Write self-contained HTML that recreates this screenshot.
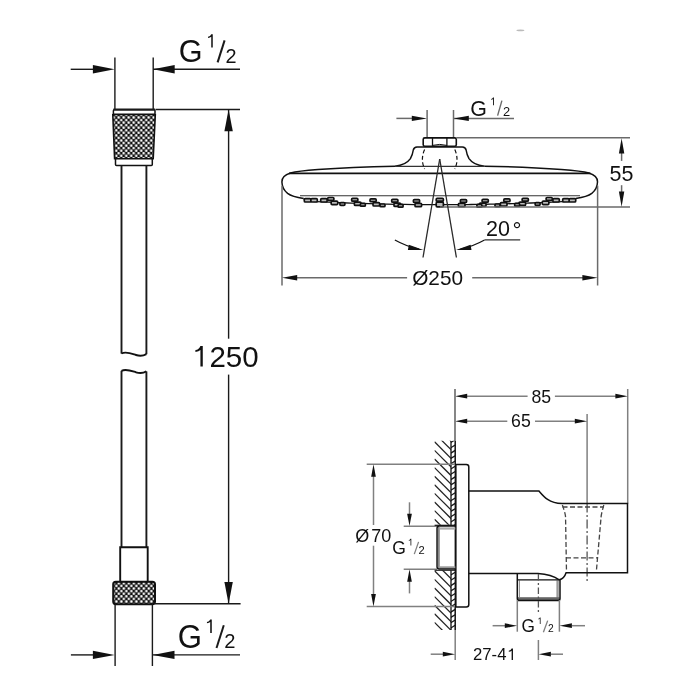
<!DOCTYPE html>
<html><head><meta charset="utf-8"><style>
html,body{margin:0;padding:0;background:#fff;}
svg{display:block;}
text{font-family:"Liberation Sans",sans-serif;fill:#111;}
svg{will-change:transform;}
</style></head><body>
<svg width="700" height="700" viewBox="0 0 700 700">
<defs>
<pattern id="knurlA" x="112.45" y="116.225" width="5" height="5.1" patternUnits="userSpaceOnUse">
<rect width="5" height="5.1" fill="#111"/>
<circle cx="1.25" cy="1.275" r="1.3" fill="#fff"/>
<circle cx="3.75" cy="3.825" r="1.3" fill="#fff"/>
</pattern>
<pattern id="knurlB" x="112.6" y="584.6" width="5" height="5.2" patternUnits="userSpaceOnUse">
<rect width="5" height="5.2" fill="#111"/>
<circle cx="3.75" cy="1.3" r="1.3" fill="#fff"/>
<circle cx="1.25" cy="3.9" r="1.3" fill="#fff"/>
</pattern>
<clipPath id="wallclip"><rect x="434.5" y="440.7" width="16.4" height="84"/><rect x="434.5" y="570.5" width="16.4" height="59.5"/></clipPath>
<clipPath id="wallclip2"><rect x="450.9" y="440.7" width="4.3" height="84"/><rect x="450.9" y="570.5" width="4.3" height="59.5"/></clipPath>
</defs>
<rect width="700" height="700" fill="#fff"/>
<line x1="70.70" y1="69.30" x2="100.00" y2="69.30" stroke="#1a1a1a" stroke-width="1.4" />
<path d="M114.60,69.30 L92.90,73.50 L92.90,65.10 Z" fill="#111"/>
<line x1="153.00" y1="69.30" x2="240.00" y2="69.30" stroke="#1a1a1a" stroke-width="1.4" />
<path d="M153.00,69.30 L174.70,65.10 L174.70,73.50 Z" fill="#111"/>
<line x1="114.90" y1="57.50" x2="114.90" y2="109.00" stroke="#1a1a1a" stroke-width="1.4" />
<line x1="153.20" y1="57.50" x2="153.20" y2="109.00" stroke="#1a1a1a" stroke-width="1.4" />
<text transform="translate(178.67,62.48) scale(0.95,1)" font-size="32.25">G</text>
<path d="M212.76,34.20 L212.76,47.40 L211.24,47.40 L211.24,36.84 Q210.28,37.76 208.04,38.03 L208.04,36.84 Q210.42,36.44 211.24,34.20 Z" fill="#111"/>
<line x1="224.60" y1="40.40" x2="217.60" y2="62.40" stroke="#1a1a1a" stroke-width="2.0" />
<text x="225.41" y="62.90" font-size="19.857142857142858" text-anchor="start" >2</text>
<path d="M112.8,114.5 L155.3,114.5 L153.2,158.8 L114.6,158.8 Z" fill="url(#knurlA)" stroke="#111" stroke-width="1.6"/>
<rect x="113.4" y="109.7" width="41.6" height="4.6" rx="1" fill="#fff" stroke="#111" stroke-width="1.5"/>
<line x1="113.40" y1="109.50" x2="155.00" y2="109.50" stroke="#1a1a1a" stroke-width="2.0" />
<rect x="115.5" y="158.8" width="36.8" height="6.6" rx="1" fill="#fff" stroke="#111" stroke-width="1.5"/>
<line x1="155.50" y1="109.50" x2="240.00" y2="109.50" stroke="#1a1a1a" stroke-width="1.4" />
<line x1="121.50" y1="165.40" x2="121.50" y2="353.60" stroke="#1a1a1a" stroke-width="1.9" />
<line x1="146.40" y1="165.40" x2="146.40" y2="354.20" stroke="#1a1a1a" stroke-width="1.9" />
<path d="M121.5,353.5 C126,351.2 131,353.4 136,355 C140,356.3 143.5,355.8 146.4,354.1" stroke="#111" stroke-width="1.9" fill="none" />
<path d="M121.5,370.8 C126,368.5 131,370.7 136,372.3 C140,373.6 143.5,373.1 146.4,371.4" stroke="#111" stroke-width="1.9" fill="none" />
<line x1="121.50" y1="370.80" x2="121.50" y2="547.00" stroke="#1a1a1a" stroke-width="1.9" />
<line x1="146.40" y1="371.40" x2="146.40" y2="547.00" stroke="#1a1a1a" stroke-width="1.9" />
<path d="M120.2,581 L120.2,547.2 L147.7,547.2 L147.7,581" stroke="#111" stroke-width="1.9" fill="none" />
<rect x="113.2" y="581.7" width="41.8" height="22.5" rx="2.6" fill="url(#knurlB)" stroke="#111" stroke-width="2.0"/>
<line x1="115.10" y1="604.30" x2="115.10" y2="666.00" stroke="#1a1a1a" stroke-width="1.4" />
<line x1="152.40" y1="604.30" x2="152.40" y2="666.00" stroke="#1a1a1a" stroke-width="1.4" />
<line x1="154.50" y1="603.70" x2="240.60" y2="603.70" stroke="#1a1a1a" stroke-width="1.4" />
<line x1="70.90" y1="654.90" x2="100.00" y2="654.90" stroke="#1a1a1a" stroke-width="1.4" />
<path d="M114.60,654.90 L92.90,659.10 L92.90,650.70 Z" fill="#111"/>
<line x1="153.00" y1="654.90" x2="240.00" y2="654.90" stroke="#1a1a1a" stroke-width="1.4" />
<path d="M152.80,654.90 L174.50,650.70 L174.50,659.10 Z" fill="#111"/>
<text transform="translate(177.64,647.87) scale(0.95,1)" font-size="32.82">G</text>
<path d="M211.78,619.40 L211.78,632.90 L210.22,632.90 L210.22,622.10 Q209.25,623.04 206.95,623.31 L206.95,622.10 Q209.38,621.69 210.22,619.40 Z" fill="#111"/>
<line x1="223.80" y1="625.30" x2="216.50" y2="648.00" stroke="#1a1a1a" stroke-width="2.0" />
<text x="224.29" y="648.10" font-size="20.142857142857178" text-anchor="start" >2</text>
<line x1="228.60" y1="110.00" x2="228.60" y2="338.70" stroke="#1a1a1a" stroke-width="1.4" />
<line x1="228.60" y1="374.60" x2="228.60" y2="603.00" stroke="#1a1a1a" stroke-width="1.4" />
<path d="M228.60,109.60 L232.80,131.30 L224.40,131.30 Z" fill="#111"/>
<path d="M228.60,603.80 L224.40,582.10 L232.80,582.10 Z" fill="#111"/>
<path d="M202.78,346.00 L202.78,366.60 L200.42,366.60 L200.42,350.12 Q198.92,351.56 195.42,351.97 L195.42,350.12 Q199.13,349.50 200.42,346.00 Z" fill="#111"/>
<text x="209.43" y="366.50" font-size="29.5" text-anchor="start" >250</text>
<line x1="396.40" y1="118.40" x2="415.00" y2="118.40" stroke="#6a6a6a" stroke-width="1.5" />
<path d="M427.00,118.40 L411.80,121.10 L411.80,115.70 Z" fill="#111"/>
<line x1="453.60" y1="118.40" x2="514.00" y2="118.40" stroke="#6a6a6a" stroke-width="1.5" />
<path d="M453.60,118.40 L468.80,115.70 L468.80,121.10 Z" fill="#111"/>
<line x1="427.10" y1="110.00" x2="427.10" y2="138.00" stroke="#6a6a6a" stroke-width="1.5" />
<line x1="453.50" y1="110.00" x2="453.50" y2="138.00" stroke="#6a6a6a" stroke-width="1.5" />
<text transform="translate(470.23,115.67) scale(0.95,1)" font-size="22.54">G</text>
<path d="M493.95,97.40 L493.95,105.20 L493.05,105.20 L493.05,98.96 Q492.49,99.51 491.16,99.66 L491.16,98.96 Q492.56,98.73 493.05,97.40 Z" fill="#111"/>
<line x1="501.90" y1="100.60" x2="497.60" y2="115.60" stroke="#6a6a6a" stroke-width="1.4" />
<text x="502.96" y="115.60" font-size="12.857142857142858" text-anchor="start" >2</text>
<rect x="423.2" y="137.9" width="33.1" height="8.4" rx="1.6" fill="#fff" stroke="#111" stroke-width="1.6"/>
<line x1="432.50" y1="138.00" x2="432.50" y2="146.00" stroke="#111" stroke-width="1.3" />
<line x1="446.90" y1="138.00" x2="446.90" y2="146.00" stroke="#111" stroke-width="1.3" />
<path d="M432.5,145.4 Q439.7,143.4 446.9,145.4" stroke="#111" stroke-width="1.0" fill="none" />
<line x1="456.30" y1="137.80" x2="630.00" y2="137.80" stroke="#6a6a6a" stroke-width="1.5" />
<path d="M395,166.2 C402,165.4 407,163.5 410.4,158.6 C412.4,155 413,152 413.3,150 C413.8,147.6 414.6,146.9 417,146.9 L462.4,146.9 C464.8,146.9 465.6,147.6 466.1,150 C466.4,152 467,155 469,158.6 C472.4,163.5 477.4,165.4 484.4,166.2" stroke="#111" stroke-width="1.5" fill="none" />
<path d="M395,166.2 C370,166.6 335,168.2 318,169.6 C305,170.6 296,171.6 290.5,173 C284,175 281.8,179 281.9,182 C282,186 283.5,190 287.6,193.4 C291,196 296,197.4 303.7,198.6" stroke="#111" stroke-width="1.5" fill="none" />
<path d="M484.4,166.2 C509.4,166.6 544.4,168.2 561.4,169.6 C574.4,170.6 583.4,171.6 588.9,173 C595.4,175 597.6,179 597.5,182 C597.4,186 595.9,190 591.8,193.4 C588.4,196 583.4,197.4 575.7,198.6" stroke="#111" stroke-width="1.5" fill="none" />
<line x1="395.00" y1="166.30" x2="484.40" y2="166.30" stroke="#333" stroke-width="1.2" />
<line x1="289.00" y1="173.40" x2="590.40" y2="173.40" stroke="#111" stroke-width="1.7" />
<line x1="300.00" y1="195.70" x2="580.00" y2="195.70" stroke="#333" stroke-width="1.1" />
<path d="M424.6,149.6 Q420.2,159.3 424.6,169" stroke="#111" stroke-width="1.2" fill="none" stroke-dasharray="4,2.5"/>
<path d="M454.8,149.6 Q459.2,159.3 454.8,169" stroke="#111" stroke-width="1.2" fill="none" stroke-dasharray="4,2.5"/>
<path d="M303.7,198.6 C305,199.5 306,200 306.0,201.05 309.0,201.22 312.0,201.37 315.0,201.53 318.0,201.68 321.0,201.83 324.0,201.97 327.0,202.11 330.0,202.24 333.0,202.38 336.0,202.50 339.0,202.63 342.0,202.75 345.0,202.87 348.0,202.98 351.0,203.09 354.0,203.20 357.0,203.30 360.0,203.40 363.0,203.50 366.0,203.59 369.0,203.68 372.0,203.76 375.0,203.84 378.0,203.92 381.0,203.99 384.0,204.06 387.0,204.13 390.0,204.19 393.0,204.25 396.0,204.31 399.0,204.36 402.0,204.41 405.0,204.45 408.0,204.49 411.0,204.53 414.0,204.56 417.0,204.59 420.0,204.62 423.0,204.64 426.0,204.66 429.0,204.68 432.0,204.69 435.0,204.69 438.0,204.70 441.0,204.70 444.0,204.70 447.0,204.69 450.0,204.68 453.0,204.67 456.0,204.65 459.0,204.63 462.0,204.60 465.0,204.57 468.0,204.54 471.0,204.50 474.0,204.47 477.0,204.42 480.0,204.38 483.0,204.32 486.0,204.27 489.0,204.21 492.0,204.15 495.0,204.09 498.0,204.02 501.0,203.94 504.0,203.87 507.0,203.79 510.0,203.71 513.0,203.62 516.0,203.53 519.0,203.43 522.0,203.34 525.0,203.23 528.0,203.13 531.0,203.02 534.0,202.91 537.0,202.79 540.0,202.67 543.0,202.55 546.0,202.42 549.0,202.29 552.0,202.15 555.0,202.02 558.0,201.87 561.0,201.73 564.0,201.58 567.0,201.43 570.0,201.27 573.0,201.11 C577,199.6 576,199.2 575.7,198.6" stroke="#111" stroke-width="1.3" fill="none" />
<rect x="413.40" y="199.60" width="6.20" height="2.80" rx="1" fill="#bbb" stroke="#111" stroke-width="1.7"/>
<rect x="415.00" y="203.30" width="6.60" height="3.40" rx="1" fill="#bbb" stroke="#111" stroke-width="1.7"/>
<rect x="460.40" y="199.60" width="6.20" height="2.80" rx="1" fill="#bbb" stroke="#111" stroke-width="1.7"/>
<rect x="458.40" y="203.30" width="6.60" height="3.40" rx="1" fill="#bbb" stroke="#111" stroke-width="1.7"/>
<rect x="391.70" y="199.33" width="6.20" height="2.80" rx="1" fill="#bbb" stroke="#111" stroke-width="1.7"/>
<rect x="393.98" y="203.03" width="6.60" height="3.40" rx="1" fill="#bbb" stroke="#111" stroke-width="1.7"/>
<rect x="398.10" y="204.43" width="5.00" height="2.70" rx="1" fill="#bbb" stroke="#111" stroke-width="1.7"/>
<rect x="482.10" y="199.33" width="6.20" height="2.80" rx="1" fill="#bbb" stroke="#111" stroke-width="1.7"/>
<rect x="479.42" y="203.03" width="6.60" height="3.40" rx="1" fill="#bbb" stroke="#111" stroke-width="1.7"/>
<rect x="476.90" y="204.43" width="5.00" height="2.70" rx="1" fill="#bbb" stroke="#111" stroke-width="1.7"/>
<rect x="370.00" y="198.91" width="6.20" height="2.80" rx="1" fill="#bbb" stroke="#111" stroke-width="1.7"/>
<rect x="373.00" y="202.61" width="6.60" height="3.40" rx="1" fill="#bbb" stroke="#111" stroke-width="1.7"/>
<rect x="380.00" y="204.01" width="5.00" height="2.70" rx="1" fill="#bbb" stroke="#111" stroke-width="1.7"/>
<rect x="503.80" y="198.91" width="6.20" height="2.80" rx="1" fill="#bbb" stroke="#111" stroke-width="1.7"/>
<rect x="500.40" y="202.61" width="6.60" height="3.40" rx="1" fill="#bbb" stroke="#111" stroke-width="1.7"/>
<rect x="495.00" y="204.01" width="5.00" height="2.70" rx="1" fill="#bbb" stroke="#111" stroke-width="1.7"/>
<rect x="351.65" y="198.35" width="6.20" height="2.80" rx="1" fill="#bbb" stroke="#111" stroke-width="1.7"/>
<rect x="354.39" y="202.05" width="6.60" height="3.40" rx="1" fill="#bbb" stroke="#111" stroke-width="1.7"/>
<rect x="360.35" y="203.45" width="5.00" height="2.70" rx="1" fill="#bbb" stroke="#111" stroke-width="1.7"/>
<rect x="522.15" y="198.35" width="6.20" height="2.80" rx="1" fill="#bbb" stroke="#111" stroke-width="1.7"/>
<rect x="519.01" y="202.05" width="6.60" height="3.40" rx="1" fill="#bbb" stroke="#111" stroke-width="1.7"/>
<rect x="514.65" y="203.45" width="5.00" height="2.70" rx="1" fill="#bbb" stroke="#111" stroke-width="1.7"/>
<rect x="327.70" y="197.52" width="6.20" height="2.80" rx="1" fill="#bbb" stroke="#111" stroke-width="1.7"/>
<rect x="331.14" y="201.22" width="6.60" height="3.40" rx="1" fill="#bbb" stroke="#111" stroke-width="1.7"/>
<rect x="339.90" y="202.62" width="5.00" height="2.70" rx="1" fill="#bbb" stroke="#111" stroke-width="1.7"/>
<rect x="546.10" y="197.52" width="6.20" height="2.80" rx="1" fill="#bbb" stroke="#111" stroke-width="1.7"/>
<rect x="542.26" y="201.22" width="6.60" height="3.40" rx="1" fill="#bbb" stroke="#111" stroke-width="1.7"/>
<rect x="535.10" y="202.62" width="5.00" height="2.70" rx="1" fill="#bbb" stroke="#111" stroke-width="1.7"/>
<rect x="436.20" y="198.40" width="7.20" height="2.80" rx="1" fill="#bbb" stroke="#111" stroke-width="1.7"/>
<rect x="304.30" y="198.60" width="6.60" height="3.40" rx="1" fill="#bbb" stroke="#111" stroke-width="1.7"/>
<rect x="569.10" y="198.60" width="6.60" height="3.40" rx="1" fill="#bbb" stroke="#111" stroke-width="1.7"/>
<rect x="310.90" y="198.60" width="6.40" height="3.40" rx="1" fill="#bbb" stroke="#111" stroke-width="1.7"/>
<rect x="562.70" y="198.60" width="6.40" height="3.40" rx="1" fill="#bbb" stroke="#111" stroke-width="1.7"/>
<rect x="320.70" y="198.60" width="6.40" height="3.40" rx="1" fill="#bbb" stroke="#111" stroke-width="1.7"/>
<rect x="552.90" y="198.60" width="6.40" height="3.40" rx="1" fill="#bbb" stroke="#111" stroke-width="1.7"/>
<rect x="436.20" y="202.20" width="7.20" height="4.60" rx="1" fill="#bbb" stroke="#111" stroke-width="1.7"/>
<line x1="440.00" y1="207.10" x2="630.00" y2="207.10" stroke="#6a6a6a" stroke-width="1.5" />
<line x1="621.60" y1="150.00" x2="621.60" y2="160.90" stroke="#6a6a6a" stroke-width="1.5" />
<path d="M621.60,138.20 L624.30,153.40 L618.90,153.40 Z" fill="#111"/>
<line x1="621.60" y1="185.20" x2="621.60" y2="195.00" stroke="#6a6a6a" stroke-width="1.5" />
<path d="M621.60,206.80 L618.90,191.60 L624.30,191.60 Z" fill="#111"/>
<text x="609.60" y="180.50" font-size="21.5" text-anchor="start" >55</text>
<line x1="439.70" y1="159.00" x2="423.00" y2="257.50" stroke="#2a2a2a" stroke-width="1.3" />
<line x1="439.70" y1="159.00" x2="456.40" y2="257.50" stroke="#2a2a2a" stroke-width="1.3" />
<path d="M394.86,239.90 A92.5,92.5 0 0 0 418.89,249.13" stroke="#111" stroke-width="1.2" fill="none" />
<path d="M423.32,250.04 L407.88,250.00 L408.84,244.69 Z" fill="#111"/>
<path d="M460.51,249.13 A92.5,92.5 0 0 0 484.54,239.90" stroke="#111" stroke-width="1.2" fill="none" />
<path d="M456.08,250.04 L470.56,244.69 L471.52,250.00 Z" fill="#111"/>
<line x1="484.54" y1="239.90" x2="520.20" y2="239.90" stroke="#333" stroke-width="1.3" />
<text x="486.00" y="236.30" font-size="21.5" text-anchor="start" >20</text>
<text x="512.60" y="238.20" font-size="22.5" text-anchor="start" >°</text>
<line x1="282.00" y1="185.70" x2="282.00" y2="285.50" stroke="#6a6a6a" stroke-width="1.5" />
<line x1="597.60" y1="185.70" x2="597.60" y2="285.50" stroke="#6a6a6a" stroke-width="1.5" />
<line x1="295.00" y1="277.80" x2="407.10" y2="277.80" stroke="#6a6a6a" stroke-width="1.5" />
<path d="M282.00,277.80 L297.20,275.10 L297.20,280.50 Z" fill="#111"/>
<line x1="472.20" y1="277.80" x2="584.00" y2="277.80" stroke="#6a6a6a" stroke-width="1.5" />
<path d="M597.60,277.80 L582.40,280.50 L582.40,275.10 Z" fill="#111"/>
<text x="412.20" y="284.90" font-size="20.8" text-anchor="start" >Ø250</text>
<line x1="454.90" y1="389.00" x2="454.90" y2="441.00" stroke="#808080" stroke-width="1.5" />
<line x1="627.70" y1="389.00" x2="627.70" y2="503.60" stroke="#808080" stroke-width="1.5" />
<line x1="587.10" y1="414.00" x2="587.10" y2="503.60" stroke="#808080" stroke-width="1.5" />
<line x1="587.10" y1="503.60" x2="587.10" y2="582.00" stroke="#555" stroke-width="1.3" stroke-dasharray="9,2.5,2,2.5"/>
<line x1="460.00" y1="396.20" x2="527.60" y2="396.20" stroke="#808080" stroke-width="1.5" />
<path d="M454.90,396.20 L467.20,393.85 L467.20,398.55 Z" fill="#111"/>
<line x1="554.90" y1="396.20" x2="622.00" y2="396.20" stroke="#808080" stroke-width="1.5" />
<path d="M627.70,396.20 L615.40,398.55 L615.40,393.85 Z" fill="#111"/>
<text x="531.39" y="402.50" font-size="17.7" text-anchor="start" >85</text>
<line x1="460.00" y1="421.20" x2="507.30" y2="421.20" stroke="#808080" stroke-width="1.5" />
<path d="M454.90,421.20 L467.20,418.85 L467.20,423.55 Z" fill="#111"/>
<line x1="535.00" y1="421.20" x2="582.00" y2="421.20" stroke="#808080" stroke-width="1.5" />
<path d="M587.10,421.20 L574.80,423.55 L574.80,418.85 Z" fill="#111"/>
<text x="511.12" y="427.30" font-size="17.7" text-anchor="start" >65</text>
<g clip-path="url(#wallclip)">
<line x1="434.50" y1="416.00" x2="474.50" y2="456.00" stroke="#222" stroke-width="1.25" />
<line x1="434.50" y1="424.60" x2="474.50" y2="464.60" stroke="#222" stroke-width="1.25" />
<line x1="434.50" y1="433.20" x2="474.50" y2="473.20" stroke="#222" stroke-width="1.25" />
<line x1="434.50" y1="441.80" x2="474.50" y2="481.80" stroke="#222" stroke-width="1.25" />
<line x1="434.50" y1="450.40" x2="474.50" y2="490.40" stroke="#222" stroke-width="1.25" />
<line x1="434.50" y1="459.00" x2="474.50" y2="499.00" stroke="#222" stroke-width="1.25" />
<line x1="434.50" y1="467.60" x2="474.50" y2="507.60" stroke="#222" stroke-width="1.25" />
<line x1="434.50" y1="476.20" x2="474.50" y2="516.20" stroke="#222" stroke-width="1.25" />
<line x1="434.50" y1="484.80" x2="474.50" y2="524.80" stroke="#222" stroke-width="1.25" />
<line x1="434.50" y1="493.40" x2="474.50" y2="533.40" stroke="#222" stroke-width="1.25" />
<line x1="434.50" y1="502.00" x2="474.50" y2="542.00" stroke="#222" stroke-width="1.25" />
<line x1="434.50" y1="510.60" x2="474.50" y2="550.60" stroke="#222" stroke-width="1.25" />
<line x1="434.50" y1="519.20" x2="474.50" y2="559.20" stroke="#222" stroke-width="1.25" />
<line x1="434.50" y1="527.80" x2="474.50" y2="567.80" stroke="#222" stroke-width="1.25" />
<line x1="434.50" y1="536.40" x2="474.50" y2="576.40" stroke="#222" stroke-width="1.25" />
<line x1="434.50" y1="545.00" x2="474.50" y2="585.00" stroke="#222" stroke-width="1.25" />
<line x1="434.50" y1="553.60" x2="474.50" y2="593.60" stroke="#222" stroke-width="1.25" />
<line x1="434.50" y1="562.20" x2="474.50" y2="602.20" stroke="#222" stroke-width="1.25" />
<line x1="434.50" y1="570.80" x2="474.50" y2="610.80" stroke="#222" stroke-width="1.25" />
<line x1="434.50" y1="579.40" x2="474.50" y2="619.40" stroke="#222" stroke-width="1.25" />
<line x1="434.50" y1="588.00" x2="474.50" y2="628.00" stroke="#222" stroke-width="1.25" />
<line x1="434.50" y1="596.60" x2="474.50" y2="636.60" stroke="#222" stroke-width="1.25" />
<line x1="434.50" y1="605.20" x2="474.50" y2="645.20" stroke="#222" stroke-width="1.25" />
<line x1="434.50" y1="613.80" x2="474.50" y2="653.80" stroke="#222" stroke-width="1.25" />
<line x1="434.50" y1="622.40" x2="474.50" y2="662.40" stroke="#222" stroke-width="1.25" />
<line x1="434.50" y1="631.00" x2="474.50" y2="671.00" stroke="#222" stroke-width="1.25" />
<line x1="434.50" y1="639.60" x2="474.50" y2="679.60" stroke="#222" stroke-width="1.25" />
<line x1="434.50" y1="648.20" x2="474.50" y2="688.20" stroke="#222" stroke-width="1.25" />
<line x1="434.50" y1="656.80" x2="474.50" y2="696.80" stroke="#222" stroke-width="1.25" />
<line x1="434.50" y1="665.40" x2="474.50" y2="705.40" stroke="#222" stroke-width="1.25" />
<line x1="434.50" y1="674.00" x2="474.50" y2="714.00" stroke="#222" stroke-width="1.25" />
<line x1="434.50" y1="682.60" x2="474.50" y2="722.60" stroke="#222" stroke-width="1.25" />
<line x1="434.50" y1="691.20" x2="474.50" y2="731.20" stroke="#222" stroke-width="1.25" />
</g>
<g clip-path="url(#wallclip2)">
<line x1="450.80" y1="421.30" x2="456.00" y2="418.10" stroke="#1a1a1a" stroke-width="1.3" />
<line x1="450.80" y1="426.60" x2="456.00" y2="423.40" stroke="#1a1a1a" stroke-width="1.3" />
<line x1="450.80" y1="431.90" x2="456.00" y2="428.70" stroke="#1a1a1a" stroke-width="1.3" />
<line x1="450.80" y1="437.20" x2="456.00" y2="434.00" stroke="#1a1a1a" stroke-width="1.3" />
<line x1="450.80" y1="442.50" x2="456.00" y2="439.30" stroke="#1a1a1a" stroke-width="1.3" />
<line x1="450.80" y1="447.80" x2="456.00" y2="444.60" stroke="#1a1a1a" stroke-width="1.3" />
<line x1="450.80" y1="453.10" x2="456.00" y2="449.90" stroke="#1a1a1a" stroke-width="1.3" />
<line x1="450.80" y1="458.40" x2="456.00" y2="455.20" stroke="#1a1a1a" stroke-width="1.3" />
<line x1="450.80" y1="463.70" x2="456.00" y2="460.50" stroke="#1a1a1a" stroke-width="1.3" />
<line x1="450.80" y1="469.00" x2="456.00" y2="465.80" stroke="#1a1a1a" stroke-width="1.3" />
<line x1="450.80" y1="474.30" x2="456.00" y2="471.10" stroke="#1a1a1a" stroke-width="1.3" />
<line x1="450.80" y1="479.60" x2="456.00" y2="476.40" stroke="#1a1a1a" stroke-width="1.3" />
<line x1="450.80" y1="484.90" x2="456.00" y2="481.70" stroke="#1a1a1a" stroke-width="1.3" />
<line x1="450.80" y1="490.20" x2="456.00" y2="487.00" stroke="#1a1a1a" stroke-width="1.3" />
<line x1="450.80" y1="495.50" x2="456.00" y2="492.30" stroke="#1a1a1a" stroke-width="1.3" />
<line x1="450.80" y1="500.80" x2="456.00" y2="497.60" stroke="#1a1a1a" stroke-width="1.3" />
<line x1="450.80" y1="506.10" x2="456.00" y2="502.90" stroke="#1a1a1a" stroke-width="1.3" />
<line x1="450.80" y1="511.40" x2="456.00" y2="508.20" stroke="#1a1a1a" stroke-width="1.3" />
<line x1="450.80" y1="516.70" x2="456.00" y2="513.50" stroke="#1a1a1a" stroke-width="1.3" />
<line x1="450.80" y1="522.00" x2="456.00" y2="518.80" stroke="#1a1a1a" stroke-width="1.3" />
<line x1="450.80" y1="527.30" x2="456.00" y2="524.10" stroke="#1a1a1a" stroke-width="1.3" />
<line x1="450.80" y1="532.60" x2="456.00" y2="529.40" stroke="#1a1a1a" stroke-width="1.3" />
<line x1="450.80" y1="537.90" x2="456.00" y2="534.70" stroke="#1a1a1a" stroke-width="1.3" />
<line x1="450.80" y1="543.20" x2="456.00" y2="540.00" stroke="#1a1a1a" stroke-width="1.3" />
<line x1="450.80" y1="548.50" x2="456.00" y2="545.30" stroke="#1a1a1a" stroke-width="1.3" />
<line x1="450.80" y1="553.80" x2="456.00" y2="550.60" stroke="#1a1a1a" stroke-width="1.3" />
<line x1="450.80" y1="559.10" x2="456.00" y2="555.90" stroke="#1a1a1a" stroke-width="1.3" />
<line x1="450.80" y1="564.40" x2="456.00" y2="561.20" stroke="#1a1a1a" stroke-width="1.3" />
<line x1="450.80" y1="569.70" x2="456.00" y2="566.50" stroke="#1a1a1a" stroke-width="1.3" />
<line x1="450.80" y1="575.00" x2="456.00" y2="571.80" stroke="#1a1a1a" stroke-width="1.3" />
<line x1="450.80" y1="580.30" x2="456.00" y2="577.10" stroke="#1a1a1a" stroke-width="1.3" />
<line x1="450.80" y1="585.60" x2="456.00" y2="582.40" stroke="#1a1a1a" stroke-width="1.3" />
<line x1="450.80" y1="590.90" x2="456.00" y2="587.70" stroke="#1a1a1a" stroke-width="1.3" />
<line x1="450.80" y1="596.20" x2="456.00" y2="593.00" stroke="#1a1a1a" stroke-width="1.3" />
<line x1="450.80" y1="601.50" x2="456.00" y2="598.30" stroke="#1a1a1a" stroke-width="1.3" />
<line x1="450.80" y1="606.80" x2="456.00" y2="603.60" stroke="#1a1a1a" stroke-width="1.3" />
<line x1="450.80" y1="612.10" x2="456.00" y2="608.90" stroke="#1a1a1a" stroke-width="1.3" />
<line x1="450.80" y1="617.40" x2="456.00" y2="614.20" stroke="#1a1a1a" stroke-width="1.3" />
<line x1="450.80" y1="622.70" x2="456.00" y2="619.50" stroke="#1a1a1a" stroke-width="1.3" />
<line x1="450.80" y1="628.00" x2="456.00" y2="624.80" stroke="#1a1a1a" stroke-width="1.3" />
<line x1="450.80" y1="633.30" x2="456.00" y2="630.10" stroke="#1a1a1a" stroke-width="1.3" />
<line x1="450.80" y1="638.60" x2="456.00" y2="635.40" stroke="#1a1a1a" stroke-width="1.3" />
<line x1="450.80" y1="643.90" x2="456.00" y2="640.70" stroke="#1a1a1a" stroke-width="1.3" />
<line x1="450.80" y1="649.20" x2="456.00" y2="646.00" stroke="#1a1a1a" stroke-width="1.3" />
<line x1="450.80" y1="654.50" x2="456.00" y2="651.30" stroke="#1a1a1a" stroke-width="1.3" />
<line x1="450.80" y1="659.80" x2="456.00" y2="656.60" stroke="#1a1a1a" stroke-width="1.3" />
<line x1="450.80" y1="665.10" x2="456.00" y2="661.90" stroke="#1a1a1a" stroke-width="1.3" />
<line x1="450.80" y1="670.40" x2="456.00" y2="667.20" stroke="#1a1a1a" stroke-width="1.3" />
<line x1="450.80" y1="675.70" x2="456.00" y2="672.50" stroke="#1a1a1a" stroke-width="1.3" />
<line x1="450.80" y1="681.00" x2="456.00" y2="677.80" stroke="#1a1a1a" stroke-width="1.3" />
</g>
<line x1="451.00" y1="441.00" x2="451.00" y2="525.00" stroke="#111" stroke-width="1.3" />
<line x1="451.00" y1="570.50" x2="451.00" y2="630.00" stroke="#111" stroke-width="1.3" />
<line x1="455.10" y1="389.00" x2="455.10" y2="441.00" stroke="#808080" stroke-width="1.5" />
<line x1="455.20" y1="441.00" x2="455.20" y2="464.00" stroke="#111" stroke-width="1.5" />
<line x1="455.60" y1="464.00" x2="455.60" y2="607.00" stroke="#111" stroke-width="2.0" />
<line x1="455.20" y1="607.00" x2="455.20" y2="630.00" stroke="#111" stroke-width="1.5" />
<line x1="455.20" y1="630.00" x2="455.20" y2="660.00" stroke="#808080" stroke-width="1.5" />
<path d="M455.6,464.6 L466.3,464.6 Q468.8,464.6 468.8,467.1 L468.8,604.4 Q468.8,606.9 466.3,606.9 L455.6,606.9" stroke="#111" stroke-width="1.5" fill="none" />
<path d="M468.8,491.1 L539,491.1 C544,497 549,503 562,503.6 L627.5,503.6 L627.5,572.7 L566.1,572.7 C565,576 563,579 559.2,579.8" stroke="#111" stroke-width="1.5" fill="none" />
<path d="M468.8,573.4 L538,573.4 C548,574 554,576 559.2,579.8" stroke="#111" stroke-width="1.5" fill="none" />
<rect x="556.4" y="580.4" width="2.4" height="17.5" fill="#999"/>
<rect x="518" y="597.2" width="41.5" height="3.2" fill="#666"/>
<line x1="519.40" y1="580.40" x2="519.40" y2="597.50" stroke="#888" stroke-width="1.0" />
<path d="M517.3,573.6 L517.3,598.4 Q517.3,600.5 519.4,600.5 L557.9,600.5 Q560,600.5 560,598.4 L560,579.6" stroke="#111" stroke-width="1.5" fill="none" />
<line x1="517.30" y1="579.90" x2="559.80" y2="579.90" stroke="#111" stroke-width="1.4" />
<line x1="562.50" y1="507.00" x2="603.80" y2="507.00" stroke="#444" stroke-width="1.3" stroke-dasharray="5,2.5"/>
<path d="M562.4,505 C564,510 566,515 565.6,520 L566.5,572" stroke="#444" stroke-width="1.3" fill="none" stroke-dasharray="5,2.5"/>
<path d="M603.8,505 C602.5,510 601,515 601,518 L596.3,572" stroke="#444" stroke-width="1.3" fill="none" stroke-dasharray="5,2.5"/>
<line x1="566.00" y1="557.80" x2="597.00" y2="557.80" stroke="#444" stroke-width="1.3" stroke-dasharray="5,2.5"/>
<line x1="366.70" y1="464.20" x2="455.00" y2="464.20" stroke="#808080" stroke-width="1.5" />
<line x1="366.70" y1="606.60" x2="455.00" y2="606.60" stroke="#808080" stroke-width="1.5" />
<line x1="373.50" y1="470.00" x2="373.50" y2="525.00" stroke="#808080" stroke-width="1.5" />
<line x1="373.50" y1="545.70" x2="373.50" y2="600.00" stroke="#808080" stroke-width="1.5" />
<path d="M373.50,464.40 L375.85,476.70 L371.15,476.70 Z" fill="#111"/>
<path d="M373.50,606.40 L371.15,594.10 L375.85,594.10 Z" fill="#111"/>
<text x="355.18" y="541.50" font-size="18" text-anchor="start" >Ø</text>
<text x="371.30" y="541.60" font-size="18" text-anchor="start" >70</text>
<line x1="403.70" y1="526.30" x2="437.00" y2="526.30" stroke="#808080" stroke-width="1.5" />
<line x1="403.70" y1="569.20" x2="437.00" y2="569.20" stroke="#808080" stroke-width="1.5" />
<line x1="409.50" y1="502.30" x2="409.50" y2="515.00" stroke="#808080" stroke-width="1.5" />
<path d="M409.50,526.10 L407.15,513.80 L411.85,513.80 Z" fill="#111"/>
<line x1="409.50" y1="581.00" x2="409.50" y2="593.40" stroke="#808080" stroke-width="1.5" />
<path d="M409.50,569.40 L411.85,581.70 L407.15,581.70 Z" fill="#111"/>
<text transform="translate(392.22,553.92) scale(0.95,1)" font-size="18.45">G</text>
<path d="M411.30,538.70 L411.30,545.60 L410.50,545.60 L410.50,540.08 Q410.00,540.56 408.83,540.70 L408.83,540.08 Q410.07,539.87 410.50,538.70 Z" fill="#111"/>
<line x1="418.60" y1="541.90" x2="414.30" y2="554.10" stroke="#808080" stroke-width="1.3" />
<text x="418.54" y="553.90" font-size="11.142857142857078" text-anchor="start" >2</text>
<rect x="437.4" y="527" width="2.4" height="41.5" fill="#888"/>
<rect x="439.8" y="527.4" width="15.5" height="2.2" fill="#aaa"/>
<rect x="439.8" y="566.3" width="15.5" height="2.3" fill="#999"/>
<path d="M455.5,569 L439.2,569 Q437,569 437,566.8 L437,528.2 Q437,526 439.2,526 L455.5,526" stroke="#111" stroke-width="1.4" fill="none" />
<line x1="434.60" y1="525.30" x2="455.00" y2="525.30" stroke="#111" stroke-width="1.2" />
<line x1="434.60" y1="570.30" x2="455.00" y2="570.30" stroke="#111" stroke-width="1.0" />
<line x1="430.70" y1="654.20" x2="445.00" y2="654.20" stroke="#808080" stroke-width="1.5" />
<path d="M455.10,654.20 L442.80,656.55 L442.80,651.85 Z" fill="#111"/>
<line x1="538.40" y1="574.00" x2="538.40" y2="612.00" stroke="#555" stroke-width="1.3" stroke-dasharray="6.5,2.5,2,2.5"/>
<line x1="538.40" y1="640.00" x2="538.40" y2="660.00" stroke="#808080" stroke-width="1.5" />
<line x1="551.00" y1="654.20" x2="563.00" y2="654.20" stroke="#808080" stroke-width="1.5" />
<path d="M538.60,654.20 L550.90,651.85 L550.90,656.55 Z" fill="#111"/>
<text x="473.06" y="660.10" font-size="16.7" text-anchor="start" >27-4</text>
<path d="M512.97,648.40 L512.97,660.10 L511.63,660.10 L511.63,650.74 Q510.78,651.56 508.79,651.79 L508.79,650.74 Q510.90,650.39 511.63,648.40 Z" fill="#111"/>
<line x1="517.30" y1="600.00" x2="517.30" y2="631.70" stroke="#808080" stroke-width="1.5" />
<line x1="559.40" y1="600.00" x2="559.40" y2="631.70" stroke="#808080" stroke-width="1.5" />
<line x1="492.60" y1="625.70" x2="505.00" y2="625.70" stroke="#808080" stroke-width="1.5" />
<path d="M517.10,625.70 L504.80,628.05 L504.80,623.35 Z" fill="#111"/>
<line x1="572.00" y1="625.70" x2="585.00" y2="625.70" stroke="#808080" stroke-width="1.5" />
<path d="M559.60,625.70 L571.90,623.35 L571.90,628.05 Z" fill="#111"/>
<text transform="translate(521.44,632.12) scale(0.95,1)" font-size="18.17">G</text>
<path d="M540.58,617.40 L540.58,624.00 L539.82,624.00 L539.82,618.72 Q539.34,619.18 538.22,619.31 L538.22,618.72 Q539.41,618.52 539.82,617.40 Z" fill="#111"/>
<line x1="547.70" y1="620.60" x2="543.40" y2="632.30" stroke="#808080" stroke-width="1.3" />
<text x="548.09" y="632.30" font-size="10.285714285714189" text-anchor="start" >2</text>
<ellipse cx="520.4" cy="30.4" rx="4" ry="0.8" fill="#bbb"/>
</svg>
</body></html>
